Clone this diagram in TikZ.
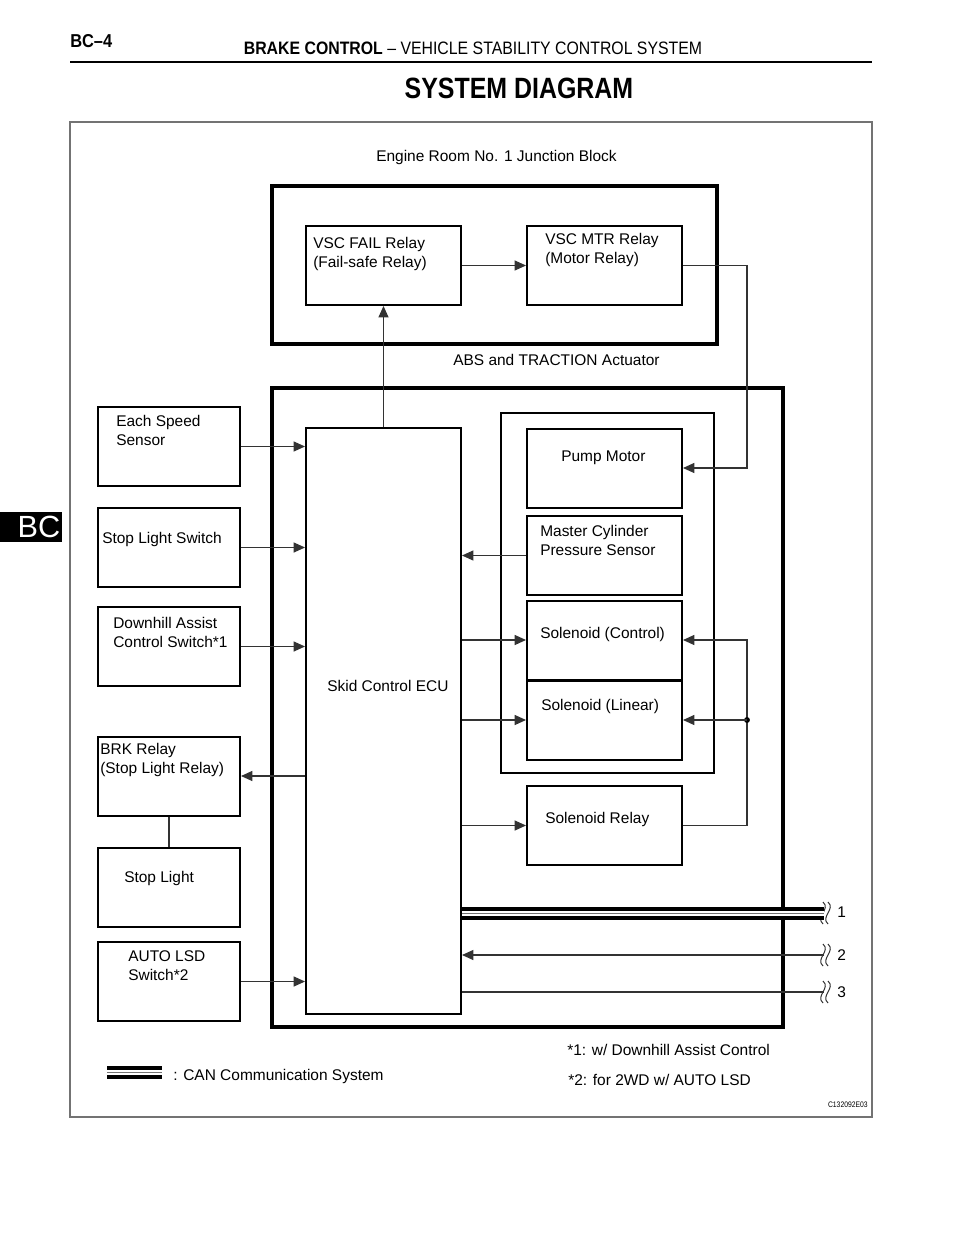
\documentclass[tikz,border=0pt]{standalone}
\usepackage{fontspec}
\setmainfont{Liberation Sans}
\usetikzlibrary{arrows.meta,positioning}

\begin{document}
\begin{tikzpicture}[x=0.75pt,y=-0.75pt,
  every node/.style={font=\fontsize{11.6}{14.3}\selectfont},
  txt/.style={anchor=north west,inner sep=0pt,align=left},
  part/.style={draw,line width=1.5pt,inner sep=0pt,minimum height=59.25pt},
  rpart/.style={part,minimum width=116.25pt},
  lpart/.style={part,minimum width=106.5pt},
  unitframe/.style={draw,line width=2.8pt},
  wire/.style={draw=black!80,line width=0.8pt},
  arr/.style={wire,-{Triangle[length=8.5pt,width=7.5pt]}},
  canline/.style={line width=3pt,double=white,double distance=3.75pt},
  cut/.style={draw=black!80,line width=0.75pt}]

      \fill[white] (0,0) rectangle (960,1242);
      \useasboundingbox (0,0) rectangle (960,1242);

      % page head
      \node[anchor=west,inner sep=0pt] (page) at (70,41)
            {\fontsize{14}{16}\selectfont\bfseries\scalebox{0.88}[1]{BC–4}};
      \node (head) at (473,48)
            {\fontsize{13.5}{16}\selectfont\scalebox{0.88}[1]{\textbf{BRAKE CONTROL}
              – VEHICLE STABILITY CONTROL SYSTEM}};
      \draw[line width=2pt] (70,62) -- (872,62);
      \node (title) at (519,88)
            {\fontsize{22}{26}\selectfont\bfseries\scalebox{0.85}[1]{SYSTEM DIAGRAM}};
      \fill (0,512) rectangle (62,542);
      \node[white] (tab) at (39,527) {\fontsize{23}{26}\selectfont BC};
      \draw[black!55,line width=0.8pt] (70,122) rectangle (872,1117);

      % engine room junction block
      \draw[unitframe] (272,186) rectangle (717,344);
      \node[txt] (jbtxt) at (376,150) {Engine Room No. 1 Junction Block};
      \node[rpart] (fail) at (383.5,265.5) {};
      \node[rpart] (mtr) at (604.5,265.5) {};
      \node[txt] (failtxt) at (313,237) {VSC FAIL Relay\\(Fail-safe Relay)};
      \node[txt] (mtrtxt) at (545,233) {VSC MTR Relay\\(Motor Relay)};

      % actuator
      \draw[unitframe] (272,388) rectangle (783,1027);
      \node[txt] (acttxt) at (453,354) {ABS and TRACTION Actuator};
      \draw[line width=1.5pt] (501,413) rectangle (714,773);
      \node[part,minimum width=116.25pt,minimum height=439.5pt] (ecu) at (383.5,721) {};
      \node[txt] (ecutxt) at (327,680) {Skid Control ECU};
      \node[rpart] (pump) at (604.5,468) {};
      \node[rpart] (mcs) at (604.5,555.5) {};
      \node[rpart] (sctl) at (604.5,640) {};
      \node[rpart] (slin) at (604.5,720) {};
      \node[rpart] (srel) at (604.5,825.5) {};
      \node[txt] (pumptxt) at (561,451) {Pump Motor};
      \node[txt] (mcstxt) at (540,525) {Master Cylinder\\Pressure Sensor};
      \node[txt] (sctltxt) at (540,627) {Solenoid (Control)};
      \node[txt] (slintxt) at (541,699) {Solenoid (Linear)};
      \node[txt] (sreltxt) at (545,812) {Solenoid Relay};

      % parts outside
      \node[lpart] (speed) at (168.5,446.5) {};
      \node[lpart] (sls) at (169,547.5) {};
      \node[lpart] (dac) at (169,646.5) {};
      \node[lpart] (brk) at (169,776) {};
      \node[lpart] (stop) at (169,887.5) {};
      \node[lpart] (lsd) at (169,981.5) {};
      \node[txt] (speedtxt) at (116,415) {Each Speed\\Sensor};
      \node[txt] (slstxt) at (102,532) {Stop Light Switch};
      \node[txt] (dactxt) at (113,617) {Downhill Assist\\Control Switch*1};
      \node[txt] (brktxt) at (100,743) {BRK Relay\\(Stop Light Relay)};
      \node[txt] (stoptxt) at (124,871) {Stop Light};
      \node[txt] (lsdtxt) at (128,950) {AUTO LSD\\Switch*2};

      % signals into the ecu
      \foreach \src in {speed,sls,dac,lsd}
               {
                 \draw[arr] (\src.east) -- (\src.east -| ecu.west);
               }
      \draw[arr] (brk.east -| ecu.west) -- (brk.east);
      \draw[wire] (brk.south) -- (stop.north);

      % relays
      \draw[arr] (ecu.north) -- (fail.south);
      \draw[arr] (fail.east) -- (mtr.west);
      \coordinate (jx) at (747,0);
      \draw[arr] (mtr.east) -| (pump.east -| jx) -- (pump.east);
      \draw[arr] (srel.east) -| (sctl.east -| jx) -- (sctl.east);
      \fill (slin.east -| jx) circle (2.2pt);
      \draw[arr] (slin.east -| jx) -- (slin.east);

      % ecu to actuator
      \draw[arr] (mcs.west) -- (mcs.west -| ecu.east);
      \foreach \dst in {sctl,slin,srel}
               {
                 \draw[arr] (\dst.west -| ecu.east) -- (\dst.west);
               }

      % lines to other systems
      \foreach \yy/\lab in {913/1,955/2,992/3}
               {
                 \coordinate (w\lab) at (824,\yy);
                 \foreach \dx in {0,5}
                          \draw[cut] (823+\dx,\yy-11) .. controls (831+\dx,\yy-4)
                                and (815+\dx,\yy+4) .. (823+\dx,\yy+11);
                 \node[txt] (n\lab) at (837,\yy-6) {\lab};
               }
      \draw[canline] (ecu.east |- w1) -- (w1);
      \draw[black!55,line width=0.5pt] (ecu.east |- w1) -- (w1);
      \draw[arr] (w2) -- (w2 -| ecu.east);
      \draw[wire] (ecu.east |- w3) -- (w3);

      % notes
      \draw[canline] (107,1072) -- (162,1072);
      \draw[black!55,line width=0.5pt] (107,1072) -- (162,1072);
      \node[txt] (cantxt) at (173,1069) {: CAN Communication System};
      \node[txt] (note1) at (567,1044) {*1: w/ Downhill Assist Control};
      \node[txt] (note2) at (568,1074) {*2: for 2WD w/ AUTO LSD};
      \node[anchor=east,inner sep=0pt] (code) at (868,1105)
            {\fontsize{6}{7}\selectfont\scalebox{0.85}[1]{C132092E03}};
\end{tikzpicture}
\end{document}
